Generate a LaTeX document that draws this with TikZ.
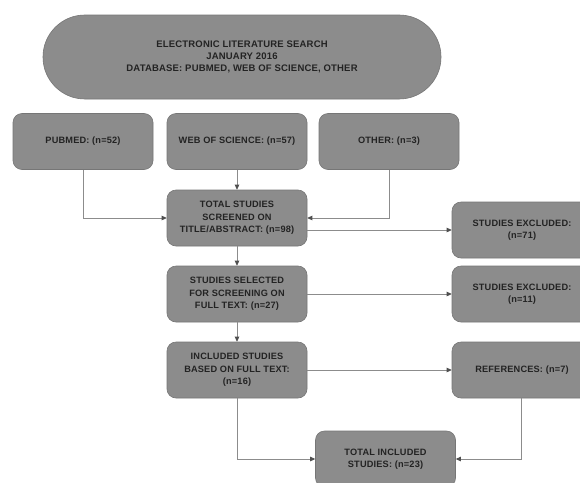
\documentclass[tikz,border=0pt]{standalone}
\usepackage{fontspec}
\setmainfont{Liberation Sans}
\newfontfamily\boxfont{Liberation Sans Bold}[LetterSpace=2]
\usetikzlibrary{arrows.meta}
\definecolor{boxfill}{RGB}{140,140,140}
\definecolor{boxedge}{RGB}{118,118,118}
\definecolor{linec}{RGB}{140,140,140}
\definecolor{txt}{RGB}{35,35,35}
\begin{document}
\begin{tikzpicture}[x=1pt,y=-1pt,
  box/.style={draw=boxedge,line width=0.6pt,fill=boxfill,rounded corners=9pt,
    minimum width=140pt,minimum height=56pt,align=center,inner sep=2pt,
    font=\boxfont\fontsize{9.2}{12.5}\selectfont,text=txt},
  pill/.style={draw=boxedge,line width=0.6pt,fill=boxfill,rounded corners=41.9pt,
    minimum width=398pt,minimum height=84pt,align=center,
    font=\boxfont\fontsize{9.5}{12}\selectfont,text=txt},
  conn/.style={draw=linec,line width=0.7pt},
  arr/.style={conn,-{Triangle[length=5pt,width=4.5pt,color=txt!80]}}]
\useasboundingbox (0,0) rectangle (580,482);
\clip (0,0) rectangle (580,482);
\fill[white] (0,0) rectangle (580,482);
\node[pill] (top) at (242,57) {ELECTRONIC LITERATURE SEARCH\\JANUARY 2016\\DATABASE: PUBMED, WEB OF SCIENCE, OTHER};
\node[box] (pub) at (83,141.5) {PUBMED: (n=52)};
\node[box] (wos) at (237,141.5) {WEB OF SCIENCE: (n=57)};
\node[box] (oth) at (389,141.5) {OTHER: (n=3)};
\node[box] (tot) at (237,218) {TOTAL STUDIES\\SCREENED ON\\TITLE/ABSTRACT: (n=98)};
\node[box] (ex1) at (522,230) {STUDIES EXCLUDED:\\(n=71)};
\node[box] (sel) at (237,294) {STUDIES SELECTED\\FOR SCREENING ON\\FULL TEXT: (n=27)};
\node[box] (ex2) at (522,294) {STUDIES EXCLUDED:\\(n=11)};
\node[box] (inc) at (237,370) {INCLUDED STUDIES\\BASED ON FULL TEXT:\\(n=16)};
\node[box] (ref) at (522,370) {REFERENCES: (n=7)};
\node[box] (tin) at (385.5,459) {TOTAL INCLUDED\\STUDIES: (n=23)};
\draw[arr] (wos) -- (tot);
\draw[arr] (pub.south) |- (tot.west);
\draw[arr] (oth.south) |- (tot.east);
\draw[arr] (tot.east |- ex1.west) -- (ex1.west);
\draw[arr] (tot) -- (sel);
\draw[arr] (sel) -- (ex2);
\draw[arr] (sel) -- (inc);
\draw[arr] (inc) -- (ref);
\draw[arr] (inc.south) |- (tin.west);
\draw[arr] (ref.south -| 521,0) |- (tin.east);
\end{tikzpicture}
\end{document}
